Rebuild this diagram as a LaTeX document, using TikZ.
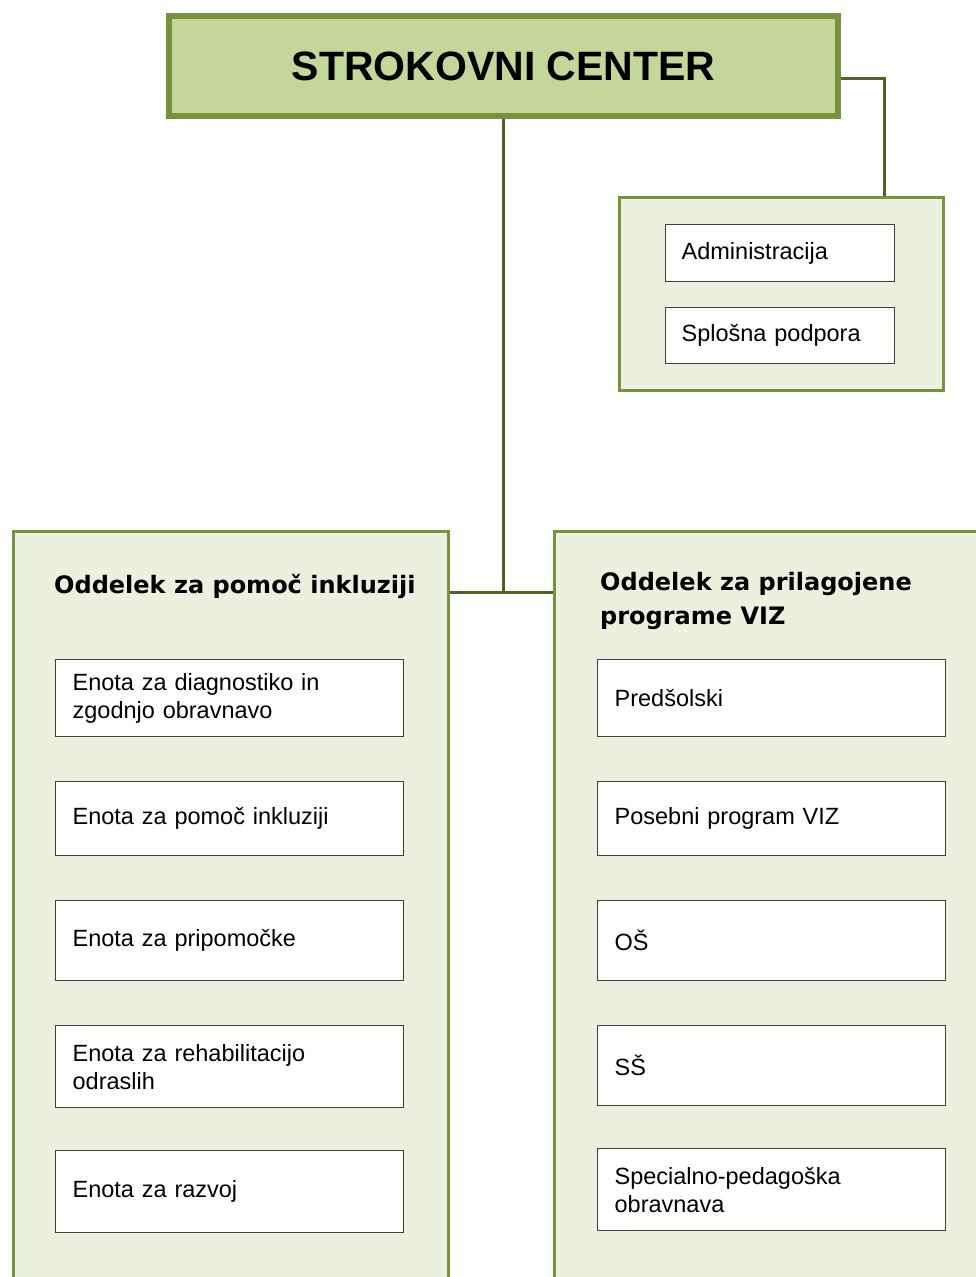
\documentclass[tikz,border=0pt]{standalone}
\usepackage{fontspec}
\setmainfont{Liberation Sans}
\newfontfamily\titlefont{DejaVu Sans}
\definecolor{topfill}{HTML}{C4D79B}
\definecolor{topborder}{HTML}{76923C}
\definecolor{deptfill}{HTML}{EBF1DE}
\definecolor{deptborder}{HTML}{77933C}
\definecolor{conn}{HTML}{4F6228}
\definecolor{unitborder}{HTML}{404040}
\begin{document}
\begin{tikzpicture}[x=1pt,y=-1pt,
  topbox/.style={draw=topborder, fill=topfill, line width=6pt, anchor=north west,
    minimum width=669pt, minimum height=100pt, inner sep=0pt,
    font=\fontsize{41}{44}\selectfont\bfseries},
  deptbox/.style={draw=deptborder, fill=deptfill, line width=3pt, anchor=north west, inner sep=0pt},
  unitbox/.style={draw=unitborder, fill=white, line width=1.3pt, anchor=north west,
    inner xsep=17pt, inner ysep=0pt, align=left, text width=314pt,
    font=\fontsize{23.5}{28}\selectfont},
  depttitle/.style={anchor=west, inner sep=0pt, align=left,
    font=\titlefont\fontsize{24}{34}\selectfont\bfseries},
  connector/.style={draw=conn, line width=3pt}
]
\useasboundingbox[fill=white] (0,0) rectangle (976,1277);

% top
\node[topbox] (sc) at (166,13) {STROKOVNI CENTER};

% admin group
\node[deptbox, minimum width=324pt, minimum height=193pt] (adm) at (618,196) {};
\node[unitbox, minimum height=57pt, text width=197pt, inner xsep=16pt] (a1) at (665,224) {Administracija};
\node[unitbox, minimum height=56pt, text width=197pt, inner xsep=16pt] (a2) at (665,307) {Splošna podpora};

% departments
\node[deptbox, minimum width=435pt, minimum height=780pt] (ld) at (12,530) {};
\node[deptbox, minimum width=440pt, minimum height=780pt] (rd) at (553,530) {};

\node[depttitle] (ldt) at (54,586) {Oddelek za pomoč inkluziji};
\node[depttitle] (rdt) at (600,601) {Oddelek za prilagojene\\programe VIZ};

% left units
\node[unitbox, minimum height=77pt] (l1) at (55,659) {Enota za diagnostiko in\\zgodnjo obravnavo};
\node[unitbox, minimum height=74pt] (l2) at (55,781) {Enota za pomoč inkluziji};
\node[unitbox, minimum height=80pt] (l3) at (55,900) {Enota za pripomočke};
\node[unitbox, minimum height=82pt] (l4) at (55,1025) {Enota za rehabilitacijo\\odraslih};
\node[unitbox, minimum height=82pt] (l5) at (55,1150) {Enota za razvoj};

% right units
\node[unitbox, minimum height=77pt] (r1) at (597,659) {Predšolski};
\node[unitbox, minimum height=74pt] (r2) at (597,781) {Posebni program VIZ};
\node[unitbox, minimum height=80pt] (r3) at (597,900) {OŠ};
\node[unitbox, minimum height=80pt] (r4) at (597,1025) {SŠ};
\node[unitbox, minimum height=82pt] (r5) at (597,1148) {Specialno-pedagoška\\obravnava};

% connectors
\coordinate (j) at (503,592);
\coordinate (c1) at (884,78);
\draw[connector] (sc.south -| j) -- (j);
\draw[connector] (ld.east |- j) -- (rd.west |- j);
\draw[connector] (sc.east |- c1) -| (adm.north -| c1);
\end{tikzpicture}
\end{document}
